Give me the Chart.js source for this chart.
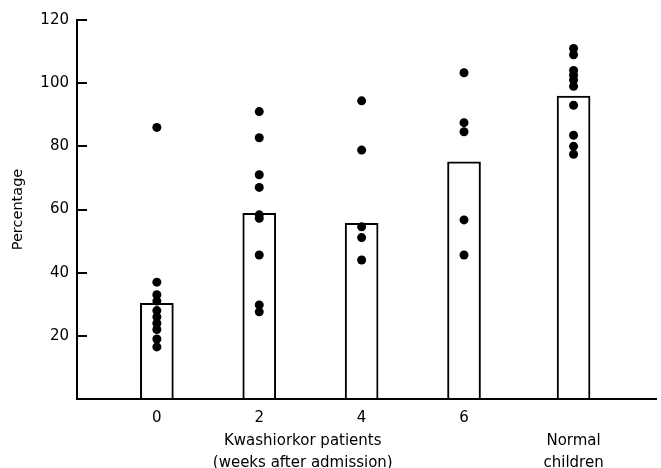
<!DOCTYPE html>
<html>
<head>
<meta charset="utf-8">
<script src="https://cdn.jsdelivr.net/npm/chart.js@4.4.1/dist/chart.umd.min.js"></script>
<style>
  html, body { margin: 0; padding: 0; background: #fff; }
  #wrap { width: 661px; height: 468px; }
</style>
</head>
<body>
<div id="wrap"><canvas id="chart"></canvas></div>
<script>
// group positions on the x axis (weeks after admission; normal children sit after week 6)
var groupX = [0, 2, 4, 6, 8.14];
var tickLabels = ['0', '2', '4', '6'];
var groupLabelX = [2.85, 8.14];
var groupLabels = [['', 'Kwashiorkor patients', '(weeks after admission)'], ['', 'Normal', 'children']];

// bar heights (group means), percent
var means = [30.3, 58.8, 55.6, 75.1, 95.9];

// individual values, percent
var week0 = [86, 37, 33, 31, 28, 26, 24, 22, 19, 16.5];
var week2 = [91, 82.7, 71, 67, 58.3, 57.2, 45.6, 29.8, 27.6];
var week4 = [94.4, 78.8, 54.5, 51.1, 44];
var week6 = [103.3, 87.5, 84.6, 56.7, 45.6];
var normal = [111, 109, 104, 102.5, 101, 99, 93, 83.5, 80, 77.5];

var groups = [week0, week2, week4, week6, normal];

var points = [];
groups.forEach(function (vals, i) {
  vals.forEach(function (v) {
    points.push({x: groupX[i], y: v});
  });
});

var bars = groupX.map(function (x, i) {
  return {x: x, y: means[i]};
});

Chart.defaults.font.family = "'DejaVu Sans', 'Liberation Sans', sans-serif";
Chart.defaults.color = '#000';

var chart = new Chart(document.getElementById('chart'), {
  type: 'bar',
  data: {
    datasets: [{
      type: 'scatter',
      data: points,
      pointRadius: 4.5,
      pointBackgroundColor: '#000',
      pointBorderWidth: 0
    }, {
      type: 'bar',
      data: bars,
      backgroundColor: '#fff',
      borderColor: '#000',
      borderWidth: 2,
      barThickness: 33
    }]
  },
  options: {
    responsive: true,
    maintainAspectRatio: false,
    animation: false,
    layout: {
      padding: {top: 20, right: 3, left: 0, bottom: 0}
    },
    plugins: {
      legend: {display: false},
      tooltip: {enabled: false}
    },
    scales: {
      x: {
        type: 'linear',
        min: -1.56,
        max: 9.76,
        offset: false,
        grid: {display: false, drawTicks: false},
        border: {display: true, color: '#000', width: 2},
        afterBuildTicks: function (scale) {
          var t = tickLabels.map(function (l, i) { return {value: groupX[i], label: l}; });
          groupLabelX.forEach(function (v, i) { t.push({value: v, label: groupLabels[i]}); });
          scale.ticks = t;
        },
        afterFit: function (scale) { scale.height = 69; },
        ticks: {
          autoSkip: false,
          maxRotation: 0,
          padding: 8,
          font: {size: 15, lineHeight: 1.5},
          callback: function (value, index, ticks) { return ticks[index].label; }
        }
      },
      y: {
        min: 0,
        max: 120,
        grid: {drawOnChartArea: false, drawTicks: true, tickLength: -10, color: '#000', lineWidth: 2},
        border: {display: true, color: '#000', width: 2},
        afterFit: function (scale) {
          scale.width = 77;
          scale.paddingTop = 0;
          scale.paddingBottom = 0;
        },
        ticks: {
          stepSize: 20,
          padding: 18,
          font: {size: 15},
          callback: function (v) { return v === 0 ? '' : v; }
        },
        title: {
          display: true,
          text: 'Percentage',
          font: {size: 14.5},
          padding: {top: 10, bottom: 0}
        }
      }
    }
  }
});
</script>
</body>
</html>
